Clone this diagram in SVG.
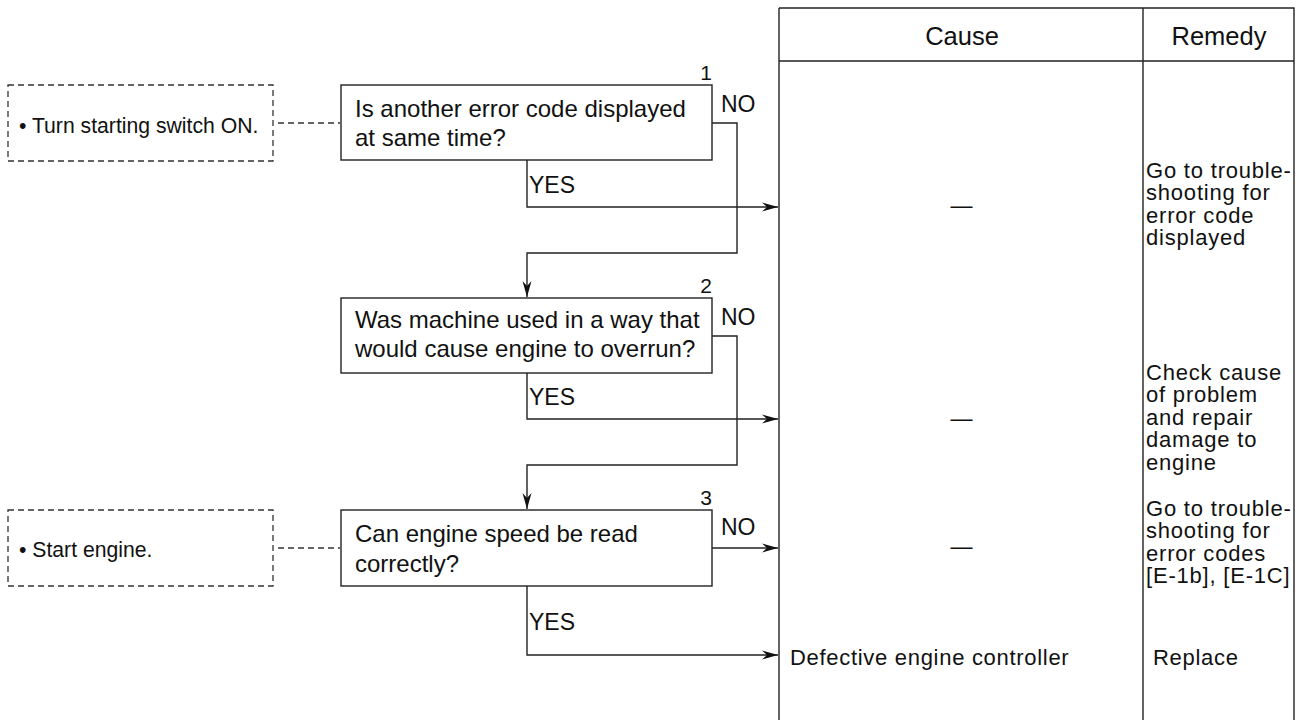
<svg xmlns="http://www.w3.org/2000/svg" width="1301" height="720" viewBox="0 0 1301 720">
<style>
text{font-family:"Liberation Sans",Arial,sans-serif;fill:#111}
.q{font-size:24px}
.n{font-size:23px}
.s{font-size:21.2px}
.r{font-size:22px;letter-spacing:0.8px}
.c{font-size:22px;letter-spacing:0.7px}
.h{font-size:25.5px}
.num{font-size:21px}
.box{fill:#fff;stroke:#222;stroke-width:1.4}
.dbox{fill:none;stroke:#333;stroke-width:1.3;stroke-dasharray:6 4}
.dl{fill:none;stroke:#333;stroke-width:1.3;stroke-dasharray:6 4}
.ln{fill:none;stroke:#222;stroke-width:1.4}
.tb{fill:none;stroke:#222;stroke-width:1.4}
</style>
<defs>
<marker id="ah" viewBox="-17 -5 18 10" refX="0" refY="0" markerWidth="18" markerHeight="10" markerUnits="userSpaceOnUse" orient="auto">
<path d="M0,0 L-16,-4.5 L-11,0 L-16,4.5 Z" fill="#111"/>
</marker>
</defs>
<g id="table">
<path class="tb" d="M779,8 H1294 V720 M779,8 V720 M1143,8 V720 M779,61 H1294"/>
<text class="h" x="962" y="45" text-anchor="middle">Cause</text>
<text class="h" x="1219" y="45" text-anchor="middle">Remedy</text>
</g>
<g id="note1">
<rect class="dbox" x="8" y="85" width="265" height="76"/>
<text class="s" x="19" y="133">• Turn starting switch ON.</text>
</g>
<g id="note2">
<rect class="dbox" x="8" y="510" width="265" height="76"/>
<text class="s" x="19" y="557">• Start engine.</text>
</g>
<g id="q1">
<rect class="box" x="341" y="85" width="371" height="75"/>
<text class="q" x="355" y="117">Is another error code displayed</text>
<text class="q" x="355" y="146">at same time?</text>
<text class="num" x="712" y="80" text-anchor="end">1</text>
</g>
<g id="q2">
<rect class="box" x="341" y="298" width="371" height="75"/>
<text class="q" x="355" y="328">Was machine used in a way that</text>
<text class="q" x="355" y="357">would cause engine to overrun?</text>
<text class="num" x="712" y="293" text-anchor="end">2</text>
</g>
<g id="q3">
<rect class="box" x="341" y="510" width="371" height="76"/>
<text class="q" x="355" y="542">Can engine speed be read</text>
<text class="q" x="355" y="572">correctly?</text>
<text class="num" x="712" y="505" text-anchor="end">3</text>
</g>
<g id="r1">
<text class="r" x="962" y="213" text-anchor="middle">—</text>
<text class="r" x="1146" y="178">Go to trouble-</text>
<text class="r" x="1146" y="200">shooting for</text>
<text class="r" x="1146" y="223">error code</text>
<text class="r" x="1146" y="245">displayed</text>
</g>
<g id="r2">
<text class="r" x="962" y="426" text-anchor="middle">—</text>
<text class="r" x="1146" y="380">Check cause</text>
<text class="r" x="1146" y="402">of problem</text>
<text class="r" x="1146" y="425">and repair</text>
<text class="r" x="1146" y="447">damage to</text>
<text class="r" x="1146" y="470">engine</text>
</g>
<g id="r3">
<text class="r" x="962" y="554" text-anchor="middle">—</text>
<text class="r" x="1146" y="516">Go to trouble-</text>
<text class="r" x="1146" y="538">shooting for</text>
<text class="r" x="1146" y="561">error codes</text>
<text class="r" x="1146" y="583">[E-1b], [E-1C]</text>
</g>
<g id="r4">
<text class="c" x="790" y="665">Defective engine controller</text>
<text class="c" x="1153" y="665">Replace</text>
</g>
<g id="connectors">
<path class="dl" d="M278,123 H340"/>
<path class="dl" d="M278,548 H340"/>
<path class="ln" d="M712,123 H737 V253 H527 V297" marker-end="url(#ah)"/>
<path class="ln" d="M527,160 V207 H778" marker-end="url(#ah)"/>
<path class="ln" d="M712,336 H737 V465 H527 V509" marker-end="url(#ah)"/>
<path class="ln" d="M527,373 V419 H778" marker-end="url(#ah)"/>
<path class="ln" d="M712,548 H778" marker-end="url(#ah)"/>
<path class="ln" d="M527,586 V655 H778" marker-end="url(#ah)"/>
<text class="n" x="721" y="112">NO</text>
<text class="n" x="529" y="193">YES</text>
<text class="n" x="721" y="325">NO</text>
<text class="n" x="529" y="405">YES</text>
<text class="n" x="721" y="535">NO</text>
<text class="n" x="529" y="630">YES</text>
</g>
</svg>
